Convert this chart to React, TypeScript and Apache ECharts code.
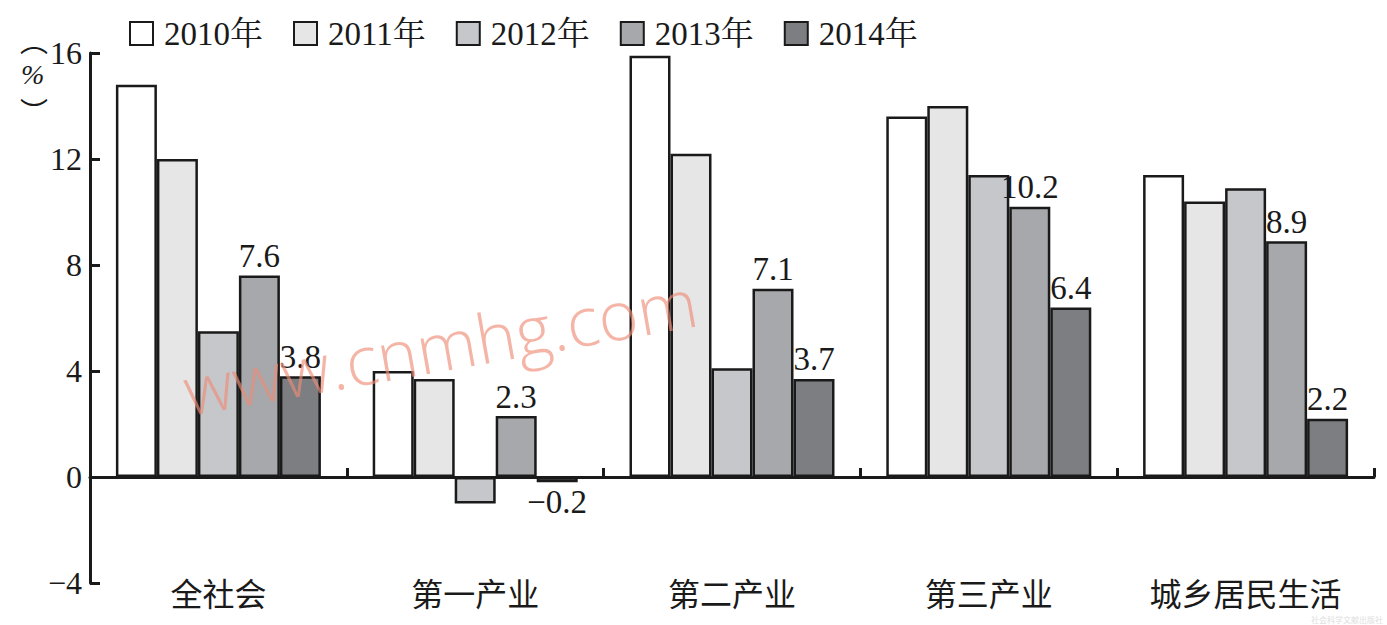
import React, { useEffect, useRef } from "react";
import * as echarts from "echarts";

const categories = ["全社会", "第一产业", "第二产业", "第三产业", "城乡居民生活"];
const years = ["2010年", "2011年", "2012年", "2013年", "2014年"];
const v2010 = [14.8, 4.0, 15.9, 13.6, 11.4];
const v2011 = [12.0, 3.7, 12.2, 14.0, 10.4];
const v2012 = [5.5, -1.0, 4.1, 11.4, 10.9];
const v2013 = [7.6, 2.3, 7.1, 10.2, 8.9];
const v2014 = [3.8, -0.2, 3.7, 6.4, 2.2];
const colors = ["#ffffff", "#e6e6e7", "#c5c7ca", "#a6a8ab", "#7d7e82"];
const showLabels = [false, false, false, true, true];

const SERIF = "'Liberation Serif', 'Times New Roman', 'Noto Serif CJK SC', serif";
const CJK = "'Noto Sans CJK SC', sans-serif";

const fmt = (v: number) => (v < 0 ? "−" + Math.abs(v).toFixed(1) : v.toFixed(1));

export default function App() {
  const ref = useRef<HTMLDivElement>(null);
  useEffect(() => {
    const chart = echarts.init(ref.current!, undefined, { renderer: "svg" });
    const all = [v2010, v2011, v2012, v2013, v2014];
    const series = all.map((vals, i) => ({
      name: years[i],
      type: "bar",
      xAxisIndex: 0,
      barWidth: 41,
      barGap: "0%",
      itemStyle: { color: colors[i], borderColor: "#1a1a1a", borderWidth: 2.5 },
      data: vals.map((v) =>
        v < 0 && showLabels[i]
          ? { value: v, label: { position: "bottom" } }
          : { value: v }
      ),
      label: {
        show: showLabels[i],
        position: "top",
        distance: 3,
        color: "#1a1a1a",
        fontFamily: SERIF,
        fontSize: 33,
        formatter: (p: any) => fmt(p.value),
      },
    }));
    chart.setOption({
      animation: false,
      backgroundColor: "#ffffff",
      legend: {
        data: years,
        icon: "rect",
        left: 124,
        top: 12,
        itemWidth: 23,
        itemHeight: 23,
        itemGap: 30,
        textStyle: { fontFamily: SERIF, fontSize: 33, color: "#1a1a1a", padding: [0, 0, 0, 6] },
      },
      grid: { left: 90, right: 13, top: 53, bottom: 42, containLabel: false },
      xAxis: [
        {
          type: "category",
          data: categories,
          axisLine: { onZero: true, lineStyle: { color: "#1a1a1a", width: 3 } },
          axisTick: { show: true, inside: true, length: 9, lineStyle: { color: "#1a1a1a", width: 3 } },
          axisLabel: { show: false },
        },
        {
          type: "category",
          data: categories,
          position: "bottom",
          axisLine: { show: false, onZero: false },
          axisTick: { show: false },
          axisLabel: { fontFamily: CJK, fontSize: 32, lineHeight: 30, color: "#1a1a1a", margin: -6 },
        },
      ],
      yAxis: {
        type: "value",
        min: -4,
        max: 16,
        interval: 4,
        axisLine: { show: true, lineStyle: { color: "#1a1a1a", width: 3 } },
        axisTick: { show: true, inside: true, length: 10, lineStyle: { color: "#1a1a1a", width: 3 } },
        splitLine: { show: false },
        axisLabel: {
          fontFamily: SERIF,
          fontSize: 32,
          color: "#1a1a1a",
          margin: 8,
          formatter: (v: number) => (v < 0 ? "−" + Math.abs(v) : String(v)),
        },
      },
      graphic: [
        { type: "text", left: 20, top: 26, style: { text: "︵", font: `28px ${CJK}`, fill: "#1a1a1a" } },
        { type: "text", left: 21, top: 60, style: { text: "%", font: `italic 28px ${SERIF}`, fill: "#1a1a1a" } },
        { type: "text", left: 20, top: 97, style: { text: "︶", font: `28px ${CJK}`, fill: "#1a1a1a" } },
        {
          type: "text",
          x: 440,
          y: 345,
          rotation: 0.175,
          style: {
            text: "www.cnmhg.com",
            font: `300 68px 'Open Sans', sans-serif`,
            fill: "rgba(238,140,118,0.65)",
            textAlign: "center",
            textVerticalAlign: "middle",
          },
          z: 100,
        },
        {
          type: "text",
          right: 4,
          bottom: 2,
          style: { text: "社会科学文献出版社", font: `8px ${CJK}`, fill: "#dedede" },
        },
      ],
      series,
    });
    return () => chart.dispose();
  }, []);
  return <div ref={ref} style={{ width: 1387, height: 625, position: "absolute", left: 0, top: 0 }} />;
}
